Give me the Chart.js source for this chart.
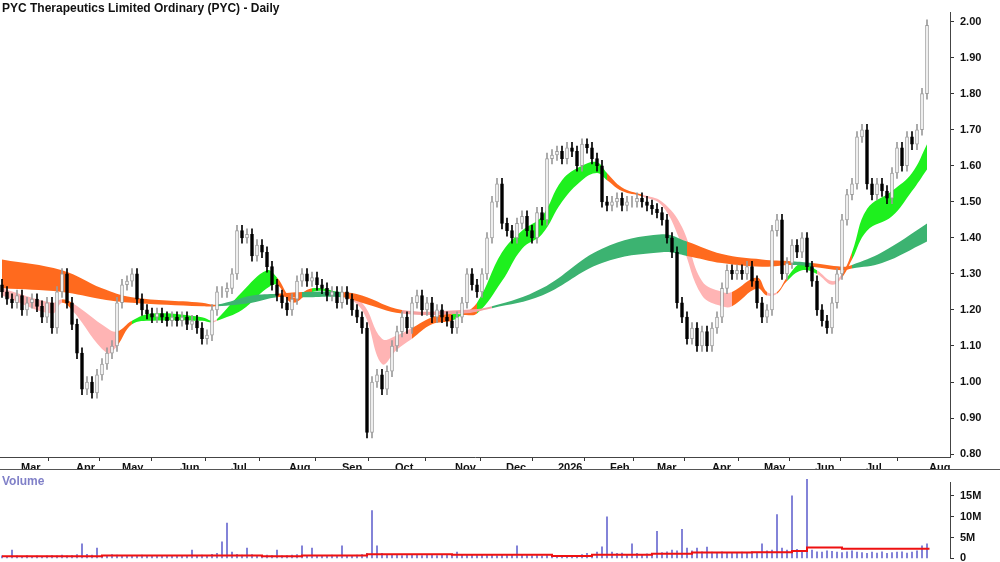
<!DOCTYPE html>
<html>
<head>
<meta charset="utf-8">
<script src="https://cdn.jsdelivr.net/npm/chart.js@4.4.1/dist/chart.umd.min.js"></script>
<style>
  body { margin: 0; background: #fff; width: 1000px; height: 562px; overflow: hidden; font-family: "Liberation Sans", Arial, sans-serif; }
  #top { position: absolute; left: 0; top: 0; width: 1000px; height: 470px; }
  #bot { position: absolute; left: 0; top: 470px; width: 1000px; height: 101px; }
  #title { position: absolute; left: 2px; top: 1px; font-size: 12px; font-weight: bold; color: #111; }
  #vlab { position: absolute; left: 2px; top: 474px; font-size: 12px; font-weight: bold; color: #8080c8; }
  #sep { position: absolute; left: 0; top: 469px; width: 1000px; height: 1px; background: #555; }
</style>
</head>
<body>
<div id="top"><canvas id="price"></canvas></div>
<div id="bot"><canvas id="vol"></canvas></div>
<div id="sep"></div>
<div id="title">PYC Therapeutics Limited Ordinary (PYC) - Daily</div>
<div id="vlab">Volume</div>
<script>
// one slot = a few trading days, x in slot units
const monthPos = [3.8, 14.8, 24, 35.6, 45.8, 57.4, 68, 78.6, 90.6, 100.8, 111.2, 121.6, 131, 142, 152.4, 162.6, 172.8, 185.4];
const monthLabels = ['Mar', 'Apr', 'May', 'Jun', 'Jul', 'Aug', 'Sep', 'Oct', 'Nov', 'Dec', '2026', 'Feb', 'Mar', 'Apr', 'May', 'Jun', 'Jul', 'Aug'];

const closes = [
  1.25, 1.23, 1.22, 1.24, 1.20, 1.22, 1.23, 1.21, 1.18, 1.22,
  1.15, 1.25, 1.30, 1.22, 1.16, 1.08, 0.98, 1.00, 0.97, 1.02,
  1.05, 1.08, 1.10, 1.22, 1.27, 1.28, 1.30, 1.23, 1.20, 1.19,
  1.18, 1.19, 1.18, 1.17, 1.18, 1.17, 1.18, 1.16, 1.17, 1.15,
  1.12, 1.13, 1.20, 1.25, 1.25, 1.26, 1.30, 1.42, 1.40, 1.41,
  1.35, 1.38, 1.36, 1.32, 1.27, 1.24, 1.22, 1.20, 1.23, 1.28,
  1.30, 1.28, 1.29, 1.27, 1.26, 1.24, 1.25, 1.22, 1.25, 1.23,
  1.20, 1.18, 1.15, 0.86, 1.00, 1.02, 0.98, 1.03, 1.10, 1.14,
  1.18, 1.15, 1.22, 1.24, 1.20, 1.22, 1.18, 1.20, 1.18, 1.17,
  1.15, 1.18, 1.22, 1.30, 1.27, 1.25, 1.30, 1.40, 1.50, 1.55,
  1.44, 1.42, 1.40, 1.44, 1.46, 1.42, 1.40, 1.47, 1.45, 1.62,
  1.63, 1.64, 1.62, 1.65, 1.64, 1.60, 1.66, 1.65, 1.62, 1.60,
  1.50, 1.49, 1.50, 1.51, 1.49, 1.50, 1.50, 1.51, 1.50, 1.49,
  1.48, 1.47, 1.45, 1.40, 1.36, 1.22, 1.18, 1.12, 1.15, 1.10,
  1.14, 1.10, 1.15, 1.18, 1.26, 1.31, 1.30, 1.31, 1.30, 1.32,
  1.28, 1.22, 1.18, 1.20, 1.42, 1.45, 1.30, 1.33, 1.38, 1.36,
  1.40, 1.32, 1.28, 1.20, 1.17, 1.15, 1.22, 1.30, 1.45, 1.52,
  1.55, 1.68, 1.70, 1.55, 1.52, 1.55, 1.53, 1.51, 1.58, 1.65,
  1.60, 1.68, 1.66, 1.70, 1.80, 1.99
];
const firstOpen = 1.27;

// ribbons: [slot, top, bottom, colour code]
const shortBand = [
  [0, 1.26, 1.24, 'p'], [10, 1.22, 1.19, 'p'], [12, 1.23, 1.22, 'o'], [14, 1.22, 1.20, 'p'],
  [21, 1.15, 1.08, 'p'], [23, 1.14, 1.10, 'o'], [26, 1.17, 1.16, 'g'], [30, 1.19, 1.17, 'g'],
  [40, 1.18, 1.17, 'g'], [42, 1.17, 1.165, 'p'], [43, 1.175, 1.17, 'g'], [48, 1.25, 1.20, 'g'],
  [53, 1.31, 1.26, 'g'], [55, 1.29, 1.27, 'o'], [58, 1.235, 1.22, 'o'], [62, 1.26, 1.25, 'g'],
  [67, 1.25, 1.245, 'p'], [72, 1.22, 1.20, 'p'], [76, 1.12, 1.05, 'p'], [79, 1.13, 1.09, 'p'],
  [82, 1.15, 1.12, 'o'], [86, 1.18, 1.16, 'o'], [90, 1.19, 1.17, 'g'], [92, 1.19, 1.185, 'o'],
  [95, 1.22, 1.19, 'g'], [100, 1.36, 1.28, 'g'], [104, 1.42, 1.37, 'g'], [108, 1.46, 1.41, 'g'],
  [112, 1.56, 1.50, 'g'], [116, 1.60, 1.56, 'g'], [119, 1.61, 1.58, 'g'], [121, 1.58, 1.56, 'o'],
  [124, 1.54, 1.53, 'o'], [128, 1.52, 1.515, 'p'], [132, 1.50, 1.49, 'p'], [136, 1.43, 1.38, 'p'],
  [140, 1.28, 1.24, 'p'], [144, 1.25, 1.21, 'p'], [146, 1.25, 1.21, 'o'], [151, 1.29, 1.26, 'o'],
  [153, 1.25, 1.24, 'p'], [155, 1.25, 1.245, 'o'], [157, 1.29, 1.28, 'g'], [160, 1.33, 1.31, 'g'],
  [163, 1.31, 1.30, 'p'], [166, 1.28, 1.27, 'p'], [168, 1.30, 1.29, 'o'], [170, 1.36, 1.34, 'g'],
  [173, 1.48, 1.42, 'g'], [178, 1.53, 1.46, 'g'], [182, 1.58, 1.53, 'g'], [185, 1.66, 1.59, 'g']
];
const longBand = [
  [0, 1.34, 1.26, 'o'], [12, 1.31, 1.25, 'o'], [20, 1.26, 1.23, 'o'], [26, 1.235, 1.22, 'o'],
  [40, 1.22, 1.21, 'o'], [43, 1.215, 1.21, 'd'], [50, 1.24, 1.22, 'd'], [55, 1.245, 1.235, 'o'],
  [60, 1.25, 1.235, 'd'], [68, 1.25, 1.235, 'o'], [72, 1.24, 1.22, 'o'], [80, 1.20, 1.19, 'r'],
  [92, 1.20, 1.19, 'r'], [98, 1.21, 1.205, 'd'], [108, 1.26, 1.24, 'd'], [120, 1.37, 1.33, 'd'],
  [132, 1.41, 1.36, 'd'], [137, 1.39, 1.35, 'o'], [144, 1.355, 1.33, 'o'], [152, 1.34, 1.32, 'o'],
  [158, 1.335, 1.325, 'd'], [162, 1.33, 1.32, 'o'], [168, 1.32, 1.31, 'o'], [170, 1.325, 1.315, 'd'],
  [176, 1.36, 1.33, 'd'], [185, 1.44, 1.39, 'd']
];
const bandColours = { g: '#1ef01e', p: '#ffb4b4', o: '#ff6a1e', d: '#3cb371', r: '#f4a0a0' };

// volume in millions per slot
const volumes = [
  0.6, 0.5, 2.0, 0.6, 0.5, 0.7, 0.5, 0.6, 0.5, 0.6,
  0.7, 0.6, 0.8, 0.6, 0.7, 0.9, 3.5, 1.0, 0.8, 2.5,
  0.7, 0.6, 0.9, 0.8, 0.6, 0.7, 0.5, 0.6, 0.8, 0.5,
  0.6, 0.5, 0.7, 0.5, 0.6, 0.5, 0.6, 0.7, 2.0, 0.6,
  0.8, 0.7, 1.0, 1.2, 4.0, 8.5, 1.5, 1.0, 0.8, 2.5,
  0.9, 0.7, 0.6, 0.8, 0.7, 2.0, 0.6, 0.7, 0.8, 0.9,
  3.0, 0.7, 2.5, 0.6, 0.7, 0.6, 0.8, 0.7, 3.0, 0.6,
  0.7, 0.8, 0.9, 1.2, 11.5, 3.0, 1.2, 1.0, 0.9, 0.8,
  0.7, 0.9, 1.0, 0.8, 0.7, 0.9, 0.8, 0.7, 0.8, 0.9,
  0.8, 1.5, 0.9, 1.0, 0.8, 0.9, 1.0, 0.8, 0.9, 0.7,
  0.9, 0.8, 1.0, 3.0, 0.9, 0.8, 0.7, 0.9, 0.6, 0.8,
  0.7, 0.6, 0.5, 0.6, 0.7, 0.6, 0.9, 1.2, 1.0, 1.5,
  2.8, 10.0, 1.5, 1.2, 1.3, 1.0, 3.5, 1.2, 1.0, 1.1,
  1.2, 6.5, 1.4, 1.6, 2.0, 1.8, 7.0, 2.5, 1.8, 2.5,
  1.6, 2.7, 1.5, 1.4, 1.6, 1.3, 1.2, 1.4, 1.5, 1.3,
  1.6, 1.4, 3.5, 1.8, 2.0, 10.5, 2.5, 2.0, 15.0, 2.2,
  1.8, 19.0, 2.0, 1.6, 1.5, 1.8, 1.7, 1.5, 1.4, 1.6,
  1.8, 1.5, 1.4, 1.2, 1.5, 1.3, 1.6, 1.2, 1.4, 1.5,
  1.6, 1.3, 1.5, 1.8, 3.0, 3.5
];
// volume moving average steps: [slot, millions]
const volAvg = [
  [0, 0.5], [20, 0.7], [52, 0.5], [60, 0.7], [73, 1.0], [90, 0.9], [110, 0.6], [118, 0.9],
  [130, 1.1], [138, 1.4], [150, 1.5], [158, 1.8], [161, 2.6], [168, 2.3], [185.5, 2.3]
];

const X_MIN = -0.4, X_MAX = 189.6;
const UP = '#9a9a9a', DOWN = '#000';

const wicks = [], bodies = [], barCols = [], bodyFill = [];
closes.forEach((c, i) => {
  const o = i === 0 ? firstOpen : closes[i - 1];
  const up = c >= o;
  wicks.push({ x: i, y: [Math.min(o, c) - 0.015, Math.max(o, c) + 0.015] });
  bodies.push({ x: i, y: [o, c] });
  barCols.push(up ? UP : DOWN);
  bodyFill.push(up ? '#fff' : DOWN);
});

const bandDatasets = (band) => {
  const seg = {
    backgroundColor: (ctx) => bandColours[band[ctx.p0DataIndex][3]],
  };
  return [
    {
      type: 'line',
      data: band.map((b) => ({ x: b[0], y: b[2] })),
      borderWidth: 0, pointRadius: 0, tension: 0.4, fill: false,
    },
    {
      type: 'line',
      data: band.map((b) => ({ x: b[0], y: b[1] })),
      borderWidth: 0, pointRadius: 0, tension: 0.4, fill: '-1',
      backgroundColor: bandColours.g,
      segment: seg,
    },
  ];
};

const font = { family: '"Liberation Sans", Arial', size: 11, weight: 'bold' };

new Chart(document.getElementById('price'), {
  data: {
    datasets: [
      ...bandDatasets(longBand),
      ...bandDatasets(shortBand),
      {
        type: 'bar', data: wicks, backgroundColor: barCols,
        barThickness: 1, grouped: false, order: -1,
      },
      {
        type: 'bar', data: bodies, backgroundColor: bodyFill, borderColor: barCols,
        borderWidth: 1, borderSkipped: false, barThickness: 3, grouped: false, order: -2,
      },
    ],
  },
  options: {
    responsive: true, maintainAspectRatio: false, animation: false,
    layout: { padding: 0 },
    plugins: { legend: { display: false }, tooltip: { enabled: false } },
    scales: {
      x: {
        type: 'linear', min: X_MIN, max: X_MAX, offset: false,
        afterBuildTicks: (s) => { s.ticks = monthPos.map((v) => ({ value: v })); },
        afterFit: (s) => { s.height = 13; },
        ticks: {
          autoSkip: false, maxRotation: 0, padding: 0, color: '#111', font: font, align: 'start',
          callback: (v, i) => monthLabels[i],
        },
        grid: { drawOnChartArea: false, tickLength: 4, color: '#333' },
        border: { color: '#444' },
      },
      y: {
        position: 'right', min: 0.792, max: 2.025,
        afterBuildTicks: (s) => {
          const t = [];
          for (let k = 8; k <= 20; k++) t.push({ value: k / 10 });
          s.ticks = t;
        },
        afterFit: (s) => { s.width = 50; },
        ticks: { color: '#111', font: font, padding: 6, callback: (v) => v.toFixed(2) },
        grid: { drawOnChartArea: false, tickLength: 4, color: '#333' },
        border: { color: '#444' },
      },
    },
  },
});

new Chart(document.getElementById('vol'), {
  data: {
    datasets: [
      {
        type: 'line', data: volAvg.map((v) => ({ x: v[0], y: v[1] })), stepped: true,
        borderColor: '#ee1111', borderWidth: 2, pointRadius: 0, order: -1,
      },
      {
        type: 'bar', data: volumes.map((v, i) => ({ x: i, y: v })),
        backgroundColor: '#6a6ad0', barThickness: 1, clip: false,
      },
    ],
  },
  options: {
    responsive: true, maintainAspectRatio: false, animation: false,
    layout: { padding: { top: 0, bottom: 5 } },
    plugins: { legend: { display: false }, tooltip: { enabled: false } },
    scales: {
      x: {
        type: 'linear', min: X_MIN, max: X_MAX, offset: false,
        afterFit: (s) => { s.height = 0; },
        ticks: { display: false },
        grid: { display: false },
        border: { display: false },
      },
      y: {
        position: 'right', min: 0, max: 18.2,
        afterBuildTicks: (s) => { s.ticks = [0, 5, 10, 15].map((v) => ({ value: v })); },
        afterFit: (s) => { s.width = 50; },
        ticks: { color: '#111', font: font, padding: 6, callback: (v) => (v === 0 ? '0' : v + 'M') },
        grid: { drawOnChartArea: false, tickLength: 4, color: '#333' },
        border: { color: '#444' },
      },
    },
  },
});
</script>
</body>
</html>
